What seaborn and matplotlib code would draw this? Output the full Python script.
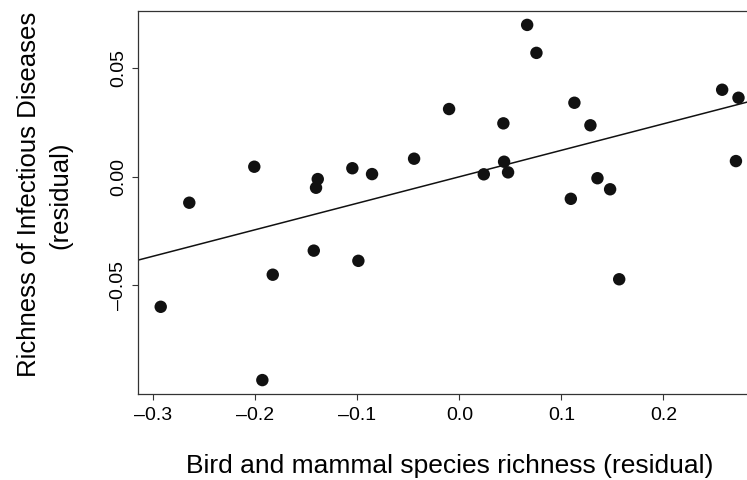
import matplotlib
matplotlib.use("Agg")
import matplotlib.pyplot as plt
import seaborn as sns
import numpy as np
import pandas as pd

# Data (residuals)
species_richness_resid = [
    -0.2927, -0.2647, -0.2010, -0.1829, -0.1931, -0.1427, -0.1388, -0.1405,
    -0.1049, -0.0990, -0.0856, -0.0444, -0.0101, 0.0239, 0.0431, 0.0438,
    0.0477, 0.0664, 0.0755, 0.1092, 0.1127, 0.1284, 0.1353, 0.1477,
    0.1566, 0.2575, 0.2735, 0.2710,
]
disease_richness_resid = [
    -0.0600, -0.0120, 0.0046, -0.0452, -0.0938, -0.0341, -0.0011, -0.0051,
    0.0039, -0.0388, 0.0012, 0.0083, 0.0312, 0.0011, 0.0246, 0.0069,
    0.0020, 0.0700, 0.0571, -0.0102, 0.0341, 0.0237, -0.0007, -0.0058,
    -0.0473, 0.0401, 0.0364, 0.0072,
]
x_ticks = [-0.3, -0.2, -0.1, 0.0, 0.1, 0.2]
x_tick_labels = ["\u20130.3", "\u20130.2", "\u20130.1", "0.0", "0.1", "0.2"]
y_ticks = [-0.05, 0.0, 0.05]
y_tick_labels = ["\u20130.05", "0.00", "0.05"]

df = pd.DataFrame({"x": species_richness_resid, "y": disease_richness_resid})

sns.set_style("white")
plt.rcParams["font.family"] = ["Liberation Sans", "DejaVu Sans"]
plt.rcParams["text.color"] = "#000000"
plt.rcParams["axes.labelcolor"] = "#000000"
plt.rcParams["xtick.color"] = "#000000"
plt.rcParams["ytick.color"] = "#000000"

W, H = 747, 480
fig = plt.figure(figsize=(W / 100, H / 100), dpi=100)
left_px, right_px, top_px, bottom_px = 137.6, 761.6, 10.7, 394.3
ax = fig.add_axes([left_px / W, 1 - bottom_px / H,
                   (right_px - left_px) / W, (bottom_px - top_px) / H])

# R-style 4% padding
xr = max(species_richness_resid) - min(species_richness_resid)
yr = max(disease_richness_resid) - min(disease_richness_resid)
xlim = (min(species_richness_resid) - 0.04 * xr, max(species_richness_resid) + 0.04 * xr)
ylim = (min(disease_richness_resid) - 0.04 * yr, max(disease_richness_resid) + 0.04 * yr)
ax.set_xlim(*xlim)
ax.set_ylim(*ylim)

sns.regplot(data=df, x="x", y="y", ax=ax, ci=None, truncate=False,
            scatter_kws=dict(s=80, color="#111111", edgecolor="none", alpha=1),
            line_kws=dict(color="#111111", lw=1.1))

ax.set_xlim(*xlim)
ax.set_ylim(*ylim)

ax.set_xticks(x_ticks)
ax.set_xticklabels(x_tick_labels, fontsize=14)
ax.set_yticks(y_ticks)
ax.set_yticklabels(y_tick_labels, fontsize=14, rotation=90, va="center")

ax.tick_params(axis="both", which="both", direction="out", length=4.5, width=0.8,
               color="#333333", labelcolor="#000000", bottom=True, left=True)
ax.tick_params(axis="x", pad=5)
ax.tick_params(axis="y", pad=3)

for side in ["left", "right", "top", "bottom"]:
    ax.spines[side].set_visible(True)
    ax.spines[side].set_color("#333333")
    ax.spines[side].set_linewidth(0.9)

ax.set_xlabel("Bird and mammal species richness (residual)", fontsize=19, labelpad=21,
              color="#000000")
ax.set_ylabel("Richness of Infectious Diseases\n(residual)", fontsize=18.5,
              linespacing=1.4, color="#000000")
ax.yaxis.set_label_coords(-0.1045, 0.52)

fig.savefig("out.png", dpi=100)
